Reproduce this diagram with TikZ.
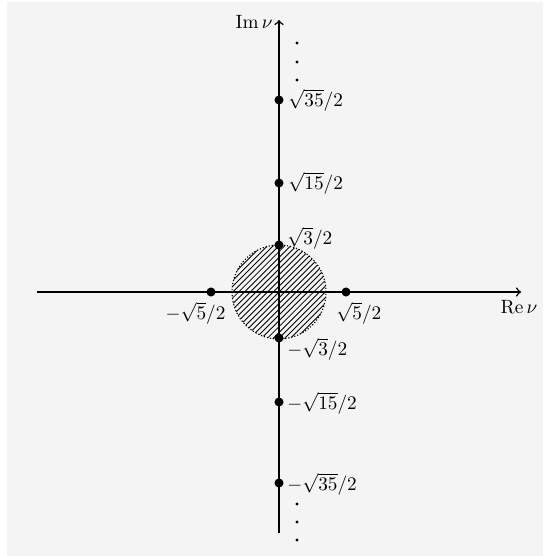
\documentclass[tikz,border=0pt]{standalone}
\definecolor{bg}{HTML}{F4F4F4}
\begin{document}
\begin{tikzpicture}[x=0.52pt,y=-0.52pt,
  axis/.style={line width=0.8pt,->},
  pt/.style={circle,fill=black,inner sep=0pt,minimum size=4.7pt},
  sdot/.style={circle,fill=black,inner sep=0pt,minimum size=1.6pt},
  lab/.style={inner sep=0pt},
  hatch/.style={line width=0.45pt},
  rim/.style={densely dotted,line width=0.6pt}]
\useasboundingbox (0,0) rectangle (543,556);
\fill[bg] (7,2) rectangle (543,556);
% hatched disc
\coordinate (O) at (279,292);
\begin{scope}
  \clip (O) circle[radius=24.44pt];
  \foreach \i in {-20,...,20}
    \draw[hatch, shift={(O)}] (\i*3pt-30pt,-30pt) -- ++(60pt,60pt);
\end{scope}
\draw[rim] (O) circle[radius=24.44pt];
% axes
\coordinate (xl) at (37,292);
\coordinate (xr) at (521,292);
\coordinate (yb) at (279,533);
\coordinate (yt) at (279,20);
\draw[axis] (xl) -- (xr);
\draw[axis] (yb) -- (yt);
\node[lab] (re) at (519,307) {$\mathrm{Re}\,\nu$};
\node[lab, anchor=east] (im) at (273,22) {$\mathrm{Im}\,\nu$};
% points
\node[pt] (p35) at (279,100) {};
\node[pt] (p15) at (279,183) {};
\node[pt] (p3) at (279,245) {};
\node[pt] (m3) at (279,338) {};
\node[pt] (m15) at (279,402) {};
\node[pt] (m35) at (279,483) {};
\node[pt] (m5) at (211,292) {};
\node[pt] (q5) at (346,292) {};
% labels
\node[lab, anchor=west] (l35) at (288,100) {$\sqrt{35}/2$};
\node[lab, anchor=west] (l15) at (288,183) {$\sqrt{15}/2$};
\node[lab, anchor=west] (l3) at (287,238) {$\sqrt{3}/2$};
\node[lab, anchor=west] (lm3) at (287,349) {$-\sqrt{3}/2$};
\node[lab, anchor=west] (lm15) at (287,403) {$-\sqrt{15}/2$};
\node[lab, anchor=west] (lm35) at (287,484) {$-\sqrt{35}/2$};
\node[lab] (lm5) at (195.5,313) {$-\sqrt{5}/2$};
\node[lab, anchor=west] (lq5) at (336,313) {$\sqrt{5}/2$};
% continuation dots
\node[sdot] (t1) at (297,43) {};
\node[sdot] (t2) at (297,62) {};
\node[sdot] (t3) at (297,80) {};
\node[sdot] (b1) at (297,504) {};
\node[sdot] (b2) at (297,522) {};
\node[sdot] (b3) at (297,540) {};
\end{tikzpicture}
\end{document}
